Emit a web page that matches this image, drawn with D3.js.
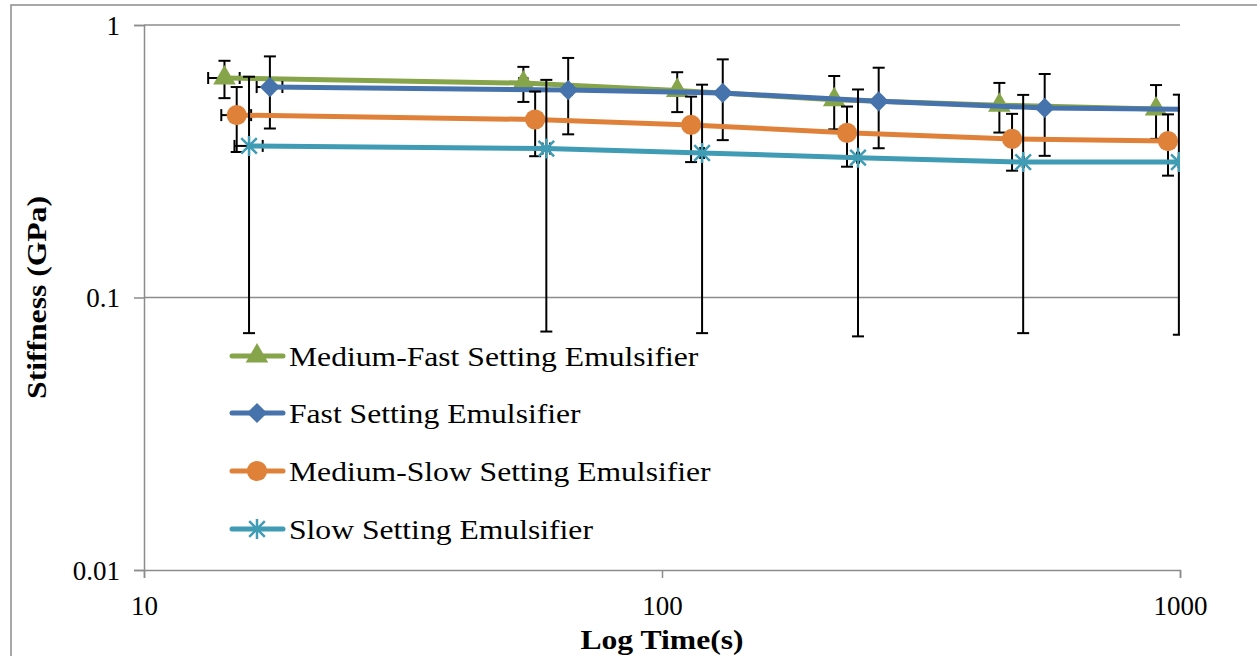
<!doctype html>
<html>
<head>
<meta charset="utf-8">
<script src="https://d3js.org/d3.v7.min.js"></script>
<style>
  body { margin: 0; background: #fff; }
  text { font-family: "Liberation Serif", "Times New Roman", serif; fill: #000; }
</style>
</head>
<body>
<svg id="chart" width="1257" height="656"></svg>
<script>
// series data (time in s, stiffness in GPa, +/- error in GPa)
var seriesNames = ["Medium-Fast Setting Emulsifier", "Fast Setting Emulsifier",
                   "Medium-Slow Setting Emulsifier", "Slow Setting Emulsifier"];

var medFastTime = [14.3, 54, 107, 215, 448, 899];
var medFastVal  = [0.639, 0.612, 0.575, 0.532, 0.508, 0.492];
var medFastErr  = [0.10, 0.09, 0.096, 0.118, 0.105, 0.11];

var fastTime = [17.5, 65.9, 131, 262, 548, 1080];
var fastVal  = [0.592, 0.577, 0.563, 0.525, 0.496, 0.49];
var fastErr  = [0.175, 0.18, 0.185, 0.172, 0.165, 0.165];

var medSlowTime = [15.1, 56.9, 113.8, 227.6, 474, 948];
var medSlowVal  = [0.467, 0.450, 0.430, 0.402, 0.382, 0.375];
var medSlowErr  = [0.125, 0.12, 0.116, 0.10, 0.09, 0.095];

var slowTime = [15.95, 59.8, 119.5, 239, 498, 995];
var slowVal  = [0.360, 0.352, 0.339, 0.326, 0.314, 0.314];
var slowErr  = [0.286, 0.277, 0.265, 0.254, 0.24, 0.241];

var timeErr = 1; // +/- 1 s horizontal error

var xTicks = [10, 100, 1000];
var yTicks = [0.01, 0.1, 1];
var yTickLabels = ["0.01", "0.1", "1"];

var colors = ["#86a44a", "#4673ac", "#e0813a", "#3f9cb4"];
var markers = ["triangle", "diamond", "circle", "star"];

var stretch = 1.13; // the titles and legend text run a bit wide

var svg = d3.select("#chart");

// outer frame
svg.append("rect")
   .attr("x", 11).attr("y", 5)
   .attr("width", 1300).attr("height", 700)
   .attr("fill", "none")
   .attr("stroke", "#8c8c8c")
   .attr("stroke-width", 1.5);

var x = d3.scaleLog().domain([10, 1000]).range([144, 1180]);
var y = d3.scaleLog().domain([0.01, 1]).range([570, 25]);

// horizontal gridlines
svg.append("g").selectAll("line")
   .data(yTicks.slice(1))
   .enter().append("line")
   .attr("x1", x(10)).attr("x2", x(1000))
   .attr("y1", function(d) { return y(d); })
   .attr("y2", function(d) { return y(d); })
   .attr("stroke", "#8c8c8c")
   .attr("stroke-width", 1.5);

// axes
var gx = svg.append("g")
   .attr("transform", "translate(0," + y(0.01) + ")")
   .call(d3.axisBottom(x).tickValues(xTicks).tickFormat(d3.format("d")).tickSize(8).tickPadding(18));
var gy = svg.append("g")
   .attr("transform", "translate(" + x(10) + ",0)")
   .call(d3.axisLeft(y).tickValues(yTicks)
         .tickFormat(function(d, i) { return yTickLabels[i]; })
         .tickSize(10).tickPadding(14));

[gx, gy].forEach(function(g) {
    g.select(".domain").attr("stroke", "#8c8c8c").attr("stroke-width", 1.5);
    g.selectAll(".tick line").attr("stroke", "#8c8c8c").attr("stroke-width", 1.5);
    g.selectAll(".tick text")
     .attr("font-family", "'Liberation Serif', 'Times New Roman', serif")
     .attr("font-size", "27px")
     .attr("fill", "#000");
});
gy.selectAll(".tick text").attr("dy", "0.35em");
gx.selectAll(".tick text").attr("dy", "0.71em");

// axis titles
svg.append("text")
   .attr("transform", "translate(" + x(100) + ",649) scale(" + stretch + ",1)")
   .attr("text-anchor", "middle")
   .attr("font-size", "28px")
   .attr("font-weight", "bold")
   .text("Log Time(s)");

svg.append("text")
   .attr("transform", "translate(46," + y(0.1) + ") rotate(-90) scale(" + stretch + ",1)")
   .attr("text-anchor", "middle")
   .attr("font-size", "28px")
   .attr("font-weight", "bold")
   .text("Stiffness (GPa)");

// clip to plot area
svg.append("clipPath").attr("id", "plotclip")
   .append("rect")
   .attr("x", x(10)).attr("y", y(1) - 40)
   .attr("width", x(1000) - x(10)).attr("height", y(0.01) - y(1) + 40);

var plot = svg.append("g").attr("clip-path", "url(#plotclip)");

function markerShape(sel, kind, color) {
    if (kind === "star") {
        var r = 10, q = r * 0.78;
        sel.append("path")
           .attr("d", "M0," + (-r) + "L0," + r +
                      "M" + (-q) + "," + (-q) + "L" + q + "," + q +
                      "M" + (-q) + "," + q + "L" + q + "," + (-q))
           .attr("stroke", color)
           .attr("stroke-width", 2.5)
           .attr("fill", "none");
    } else if (kind === "triangle") {
        sel.append("path").attr("d", d3.symbol(d3.symbolTriangle, 220)()).attr("fill", color);
    } else if (kind === "diamond") {
        sel.append("path").attr("d", d3.symbol(d3.symbolSquare, 205)())
           .attr("transform", "rotate(45)").attr("fill", color);
    } else {
        sel.append("path").attr("d", d3.symbol(d3.symbolCircle, 320)()).attr("fill", color);
    }
}

var allSeries = [
    { t: medFastTime, v: medFastVal, e: medFastErr },
    { t: fastTime, v: fastVal, e: fastErr },
    { t: medSlowTime, v: medSlowVal, e: medSlowErr },
    { t: slowTime, v: slowVal, e: slowErr }
];

var line = d3.line()
    .x(function(d) { return x(d.t); })
    .y(function(d) { return y(d.v); });

var cap = 6;

allSeries.forEach(function(s, k) {
    var pts = s.t.map(function(t, i) { return { t: t, v: s.v[i], e: s.e[i] }; });
    var g = plot.append("g");

    // error bars, vertical then horizontal
    var eb = g.append("g").attr("stroke", "#000").attr("stroke-width", 2);
    pts.forEach(function(d) {
        var cx = x(d.t), top = y(d.v + d.e), bot = y(d.v - d.e);
        eb.append("line").attr("x1", cx).attr("x2", cx).attr("y1", top).attr("y2", bot);
        eb.append("line").attr("x1", cx - cap).attr("x2", cx + cap).attr("y1", top).attr("y2", top);
        eb.append("line").attr("x1", cx - cap).attr("x2", cx + cap).attr("y1", bot).attr("y2", bot);
        var cy = y(d.v), lft = x(d.t - timeErr), rgt = x(d.t + timeErr);
        eb.append("line").attr("x1", lft).attr("x2", rgt).attr("y1", cy).attr("y2", cy);
        eb.append("line").attr("x1", lft).attr("x2", lft).attr("y1", cy - cap).attr("y2", cy + cap);
        eb.append("line").attr("x1", rgt).attr("x2", rgt).attr("y1", cy - cap).attr("y2", cy + cap);
    });

    g.append("path")
     .datum(pts)
     .attr("d", line)
     .attr("fill", "none")
     .attr("stroke", colors[k])
     .attr("stroke-width", 5)
     .attr("stroke-linejoin", "round")
     .attr("stroke-linecap", "round");

    pts.forEach(function(d) {
        var m = g.append("g").attr("transform", "translate(" + x(d.t) + "," + y(d.v) + ")");
        markerShape(m, markers[k], colors[k]);
    });
});

// legend
var legend = svg.append("g");
var legendY = [356, 413, 471, 529];
seriesNames.forEach(function(name, k) {
    var lg = legend.append("g").attr("transform", "translate(0," + legendY[k] + ")");
    lg.append("line")
      .attr("x1", 232).attr("x2", 283).attr("y1", 0).attr("y2", 0)
      .attr("stroke", colors[k]).attr("stroke-width", 5).attr("stroke-linecap", "round");
    var m = lg.append("g").attr("transform", "translate(257,0)");
    markerShape(m, markers[k], colors[k]);
    lg.append("text")
      .attr("transform", "translate(289,0) scale(" + stretch + ",1)")
      .attr("dy", "0.35em")
      .attr("font-size", "28px")
      .text(name);
});
</script>
</body>
</html>
